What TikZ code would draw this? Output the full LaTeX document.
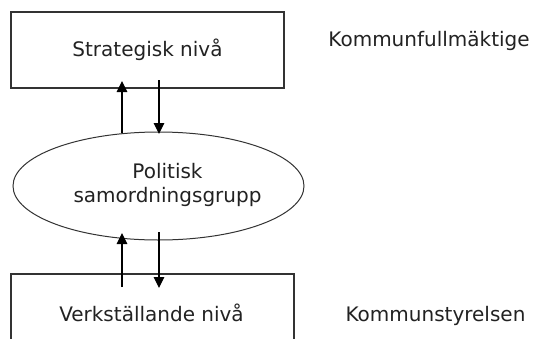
\documentclass[tikz,border=0pt]{standalone}
\usepackage{fontspec}
\setmainfont{DejaVu Sans}
\usetikzlibrary{arrows.meta,shapes.geometric}
\definecolor{ln}{HTML}{333333}
\definecolor{tx}{HTML}{222222}
\begin{document}
\begin{tikzpicture}[x=1pt,y=-1pt,
  lbl/.style={text=tx,font=\fontsize{20}{24}\selectfont,inner sep=0pt},
  flowarrow/.style={draw=black,line width=1.2pt,-{Triangle[width=10.5pt,length=11pt]}}]
\useasboundingbox (0,0) rectangle (533,338);
% top box
\node[draw=ln,line width=1.3pt,minimum width=273pt,minimum height=76pt,inner sep=0pt] (topbox) at (147.5,50) {};
\node[lbl] (strat) at (147.5,50) {Strategisk nivå};
% bottom box (cut off)
\draw[ln,line width=1.3pt] (11,345) -- (11,274) -- (294,274) -- (294,345);
\node[lbl] (verk) at (151.5,313) {Verkställande nivå};
% ellipse
\node[draw=ln,line width=1pt,ellipse,minimum width=291pt,minimum height=108pt,inner sep=0pt] (pol) at (158.5,186) {};
\node[lbl,align=center] (poltext) at (167.5,185) {Politisk\\samordningsgrupp};
% right labels
\node[lbl] (kf) at (429,41) {Kommunfullmäktige};
\node[lbl] (ks) at (435.5,316) {Kommunstyrelsen};
% arrows
\coordinate (a1s) at (122,133);
\coordinate (a1e) at (122,81);
\coordinate (a2s) at (159,80);
\coordinate (a2e) at (159,134);
\coordinate (a3s) at (122,287);
\coordinate (a3e) at (122,233);
\coordinate (a4s) at (159,232);
\coordinate (a4e) at (159,288);
\draw[flowarrow] (a1s) -- (a1e);
\draw[flowarrow] (a2s) -- (a2e);
\draw[flowarrow] (a3s) -- (a3e);
\draw[flowarrow] (a4s) -- (a4e);
\end{tikzpicture}
\end{document}
